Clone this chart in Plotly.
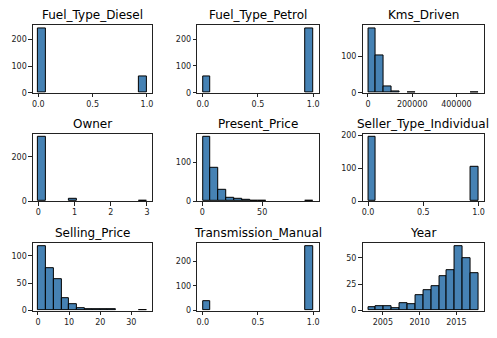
import numpy as np
import plotly.graph_objects as go

# ---- data (14 bins each) ----
columns = ["Fuel_Type_Diesel", "Fuel_Type_Petrol", "Kms_Driven",
           "Owner", "Present_Price", "Seller_Type_Individual",
           "Selling_Price", "Transmission_Manual", "Year"]

fuel_diesel_counts = [241, 0, 0, 0, 0, 0, 0, 0, 0, 0, 0, 0, 0, 60]
fuel_petrol_counts = [62, 0, 0, 0, 0, 0, 0, 0, 0, 0, 0, 0, 0, 239]
kms_counts = [175, 103, 18, 4, 0, 1, 0, 0, 0, 0, 0, 0, 0, 1]
owner_counts = [290, 0, 0, 0, 10, 0, 0, 0, 0, 0, 0, 0, 0, 1]
present_price_counts = [164, 86, 30, 8, 6, 3, 2, 1, 0, 0, 0, 0, 0, 1]
seller_counts = [195, 0, 0, 0, 0, 0, 0, 0, 0, 0, 0, 0, 0, 106]
selling_price_counts = [117, 77, 57, 23, 11, 5, 2, 3, 2, 3, 0, 0, 0, 1]
transmission_counts = [40, 0, 0, 0, 0, 0, 0, 0, 0, 0, 0, 0, 0, 261]
year_counts = [3, 4, 4, 2, 7, 6, 15, 19, 23, 33, 38, 61, 50, 36]

# value range (min, max) of each column
col_min = [0, 0, 500, 0, 0.32, 0, 0.1, 0, 2003]
col_max = [1, 1, 500000, 3, 92.6, 1, 35, 1, 2018]

all_counts = [fuel_diesel_counts, fuel_petrol_counts, kms_counts,
              owner_counts, present_price_counts, seller_counts,
              selling_price_counts, transmission_counts, year_counts]

x_tickvals = [[0, 0.5, 1], [0, 0.5, 1], [0, 200000, 400000],
              [0, 1, 2, 3], [0, 50], [0, 0.5, 1],
              [0, 10, 20, 30], [0, 0.5, 1], [2005, 2010, 2015]]
x_tickfmt = [".1f", ".1f", "d", "d", "d", ".1f", "d", ".1f", "d"]
y_tickvals = [[0, 100, 200], [0, 100, 200], [0, 100],
              [0, 200], [0, 100], [0, 100, 200],
              [0, 50, 100], [0, 100, 200], [0, 25, 50]]

# ---- layout geometry ----
col_dom = [[0.0644, 0.3058], [0.3964, 0.6419], [0.7304, 0.9759]]
row_dom = [[0.7278, 0.932], [0.3994, 0.6036], [0.068, 0.2722]]

fig = go.Figure()
annotations = []
layout = dict(
    width=497, height=338,
    margin=dict(l=0, r=0, t=0, b=0),
    plot_bgcolor="white", paper_bgcolor="white",
    showlegend=False,
    font=dict(family="DejaVu Sans", size=8, color="#222"),
)

for i, name in enumerate(columns):
    r, c = divmod(i, 3)
    counts = all_counts[i]
    nb = len(counts)
    edges = np.linspace(col_min[i], col_max[i], nb + 1)
    centers = (edges[:-1] + edges[1:]) / 2
    bw = edges[1] - edges[0]
    ax = "" if i == 0 else str(i + 1)
    fig.add_trace(go.Bar(
        x=centers, y=counts, width=[bw] * nb,
        marker=dict(color="#4682B4",
                    line=dict(color="black",
                              width=[1 if v > 0 else 0 for v in counts])),
        xaxis="x" + ax, yaxis="y" + ax, hoverinfo="skip",
    ))
    span = col_max[i] - col_min[i]
    ymax = max(counts) * 1.05
    common = dict(showline=True, linecolor="#222", linewidth=1, mirror=True,
                  ticks="outside", ticklen=3.5, tickwidth=1, tickcolor="#222",
                  showgrid=False, zeroline=False,
                  tickfont=dict(family="DejaVu Sans", size=8, color="#222"))
    layout["xaxis" + ax] = dict(
        domain=col_dom[c], anchor="y" + ax,
        range=[col_min[i] - 0.05 * span, col_max[i] + 0.05 * span],
        tickvals=x_tickvals[i], tickformat=x_tickfmt[i], **common)
    layout["yaxis" + ax] = dict(
        domain=row_dom[r], anchor="x" + ax,
        range=[0, ymax], tickvals=y_tickvals[i], **common)
    annotations.append(dict(
        text=name, xref="paper", yref="paper",
        x=(col_dom[c][0] + col_dom[c][1]) / 2, y=row_dom[r][1],
        xanchor="center", yanchor="bottom", yshift=1, showarrow=False,
        font=dict(family="DejaVu Sans", size=12, color="black")))

layout["annotations"] = annotations
layout["bargap"] = 0
fig.update_layout(**layout)
fig.write_html("out.html")
